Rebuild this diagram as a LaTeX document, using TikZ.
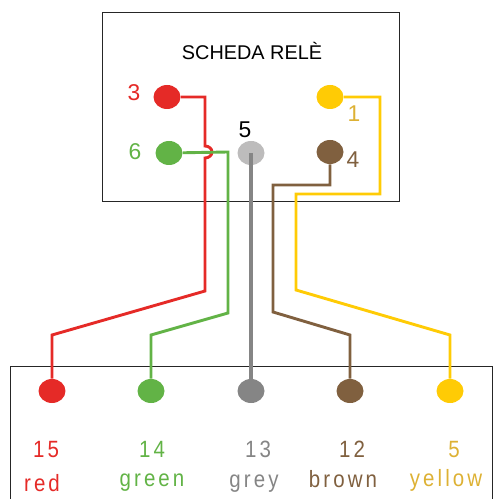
\documentclass[tikz,border=0pt]{standalone}
\usepackage{fontspec}
\usepackage{xcolor}
\usetikzlibrary{shapes.geometric}
\setmainfont{Liberation Sans}
\newfontfamily\spaced[LetterSpace=13,FakeStretch=0.87]{Liberation Sans}

\definecolor{wirered}{HTML}{E52A27}
\definecolor{wiregreen}{HTML}{62B346}
\definecolor{wiregrey}{HTML}{858585}
\definecolor{pingrey}{HTML}{BDBCBC}
\definecolor{wirebrown}{HTML}{80603F}
\definecolor{wireyellow}{HTML}{FFCB05}
\definecolor{textyellow}{HTML}{DDB134}

\tikzset{
	pin/.style={shape=ellipse,inner sep=0pt,minimum width=0.54cm,minimum height=0.48cm,fill=#1},
	wire/.style={line width=1.65pt,draw=#1},
	num/.style={inner sep=0pt,anchor=base,text=#1,font=\fontsize{13}{13}\selectfont},
	lab/.style={inner sep=0pt,anchor=base,text=#1,font=\fontsize{13.4}{13.4}\spaced},
	boxline/.style={draw=black!85,line width=0.55pt}
}

\begin{document}
\begin{tikzpicture}[x=0.02cm,y=-0.02cm]

	\useasboundingbox (0,0) rectangle (494,499);

	\node[boxline,minimum width=5.96cm,minimum height=3.8cm,inner sep=0pt] (scheda) at (251,107) {};
	\coordinate (boxa) at (10,499);
	\coordinate (boxb) at (10,366);
	\coordinate (boxc) at (492,366);
	\coordinate (boxd) at (492,499);
	\draw[boxline] (boxa) -- (boxb) -- (boxc) -- (boxd);

	\node[inner sep=0pt,font=\fontsize{11.3}{11.3}\selectfont] (title) at (252,51) {SCHEDA RELÈ};

	\node[pin=wirered] (pin3) at (167,97) {};
	\node[pin=wiregreen] (pin6) at (169,153) {};
	\node[pin=pingrey] (pin5) at (251,153) {};
	\node[pin=wireyellow] (pin1) at (330,97) {};
	\node[pin=wirebrown] (pin4) at (330,152) {};

	\node[pin=wirered] (pin15) at (52,391) {};
	\node[pin=wiregreen] (pin14) at (151,391) {};
	\node[pin=wiregrey] (pin13) at (251,391) {};
	\node[pin=wirebrown] (pin12) at (350,391) {};
	\node[pin=wireyellow] (pinb5) at (450,391) {};

	\node[num=wirered] (n3) at (134,101) {3};
	\node[num=wiregreen] (n6) at (135,160) {6};
	\node[num=black] (n5) at (245,138) {5};
	\node[num=textyellow] (n1) at (354,122) {1};
	\node[num=wirebrown] (n4) at (353,168) {4};

	\node[lab=wirered] (n15) at (46,457) {15};
	\node[lab=wiregreen] (n14) at (152,457) {14};
	\node[lab=wiregrey] (n13) at (258,457) {13};
	\node[lab=wirebrown] (n12) at (352,457) {12};
	\node[lab=textyellow] (nb5) at (454,457) {5};

	\node[lab=wirered] (red) at (42,491) {red};
	\node[lab=wiregreen] (green) at (152,486) {green};
	\node[lab=wiregrey] (grey) at (254,487) {grey};
	\node[lab=wirebrown] (brown) at (343,487) {brown};
	\node[lab=textyellow] (yellow) at (446,486) {yellow};

	\coordinate (redh) at (205,97);
	\coordinate (jumpa) at (205,146);
	\coordinate (redk) at (205,291);
	\coordinate (redl) at (52,335);
	\draw[wire=wirered] (pin3) -- (redh) -- (jumpa) arc[start angle=-90,end angle=90,x radius=7,y radius=6] -- (redk) -- (redl) -- (pin15);

	\coordinate (greenh) at (228,152);
	\coordinate (greenk) at (228,313);
	\coordinate (greenl) at (151,335);
	\draw[wire=wiregreen] (pin6) -- (greenh) -- (greenk) -- (greenl) -- (pin14);

	\draw[wire=wiregrey,line width=1.78pt] (pin5.center) -- (pin13);

	\coordinate (browna) at (330,185);
	\coordinate (brownb) at (273,185);
	\coordinate (brownk) at (273,312);
	\coordinate (brownl) at (350,335);
	\draw[wire=wirebrown] (pin4) -- (browna) -- (brownb) -- (brownk) -- (brownl) -- (pin12);

	\coordinate (yellowa) at (380,97);
	\coordinate (yellowb) at (380,194);
	\coordinate (yellowc) at (296,194);
	\coordinate (yellowk) at (296,290);
	\coordinate (yellowl) at (450,335);
	\draw[wire=wireyellow] (pin1) -- (yellowa) -- (yellowb) -- (yellowc) -- (yellowk) -- (yellowl) -- (pinb5);

\end{tikzpicture}
\end{document}
